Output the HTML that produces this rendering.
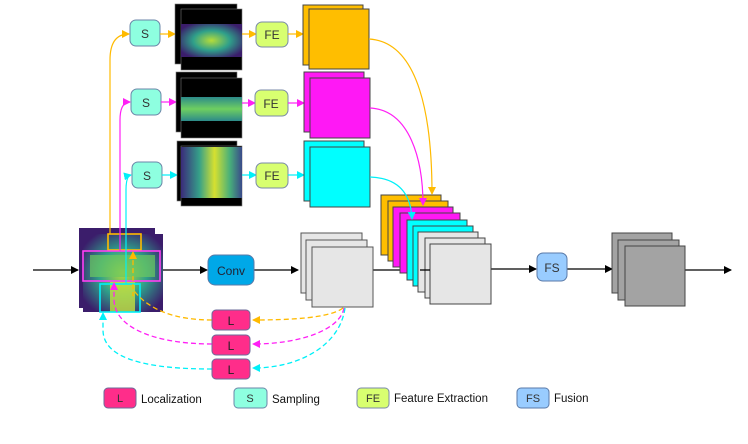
<!DOCTYPE html>
<html><head><meta charset="utf-8"><style>
html,body{margin:0;padding:0;background:#fff;}
svg{display:block;font-family:"Liberation Sans",sans-serif;}
</style></head><body>
<svg width="748" height="444" viewBox="0 0 748 444" xmlns="http://www.w3.org/2000/svg">
<defs>
<marker id="ak" markerWidth="8" markerHeight="8" refX="7" refY="4" orient="auto" markerUnits="userSpaceOnUse"><path d="M0,0 L8,4 L0,8 z" fill="#000"/></marker>
<marker id="ao" markerWidth="8" markerHeight="8" refX="7" refY="4" orient="auto" markerUnits="userSpaceOnUse"><path d="M0,0 L8,4 L0,8 z" fill="#ffba00"/></marker>
<marker id="am" markerWidth="8" markerHeight="8" refX="7" refY="4" orient="auto" markerUnits="userSpaceOnUse"><path d="M0,0 L8,4 L0,8 z" fill="#ff1ff5"/></marker>
<marker id="ac" markerWidth="8" markerHeight="8" refX="7" refY="4" orient="auto" markerUnits="userSpaceOnUse"><path d="M0,0 L8,4 L0,8 z" fill="#00f0f8"/></marker>
<radialGradient id="h2" cx="0.5" cy="0.5" r="0.6"><stop offset="0" stop-color="#b5dc3a"/><stop offset="0.5" stop-color="#2fa08a"/><stop offset="1" stop-color="#3b1d6b"/></radialGradient>
<linearGradient id="h3" x1="0" y1="0" x2="1" y2="0"><stop offset="0" stop-color="#3b2a7a"/><stop offset="0.3" stop-color="#35a089"/><stop offset="0.55" stop-color="#d6e030"/><stop offset="0.8" stop-color="#48b07a"/><stop offset="1" stop-color="#3a4a8a"/></linearGradient>
<linearGradient id="h4" x1="0" y1="0" x2="0" y2="1"><stop offset="0" stop-color="#2c8a8a"/><stop offset="0.5" stop-color="#6fcf60"/><stop offset="1" stop-color="#2c8a8a"/></linearGradient>
</defs>

<line x1="33" y1="270" x2="78" y2="270" stroke="#000" stroke-width="1.3" marker-end="url(#ak)"/>
<line x1="163" y1="270" x2="207" y2="270" stroke="#000" stroke-width="1.3" marker-end="url(#ak)"/>
<line x1="254" y1="270" x2="298" y2="270" stroke="#000" stroke-width="1.3" marker-end="url(#ak)"/>
<line x1="373" y1="270" x2="419" y2="270" stroke="#000" stroke-width="1.3" marker-end="url(#ak)"/>
<line x1="491" y1="269" x2="536" y2="269" stroke="#000" stroke-width="1.3" marker-end="url(#ak)"/>
<line x1="567" y1="269" x2="612" y2="269" stroke="#000" stroke-width="1.3" marker-end="url(#ak)"/>
<line x1="685" y1="270" x2="731" y2="270" stroke="#000" stroke-width="1.3" marker-end="url(#ak)"/>

<rect x="79" y="228" width="76" height="80" fill="#3b1d6b"/>
<rect x="83" y="234" width="80" height="78" fill="url(#h2)"/>
<rect x="90" y="255" width="65" height="22" fill="#6cc860" opacity="0.7"/>
<rect x="110" y="282" width="25" height="30" fill="#c6e040" opacity="0.8"/>
<rect x="108" y="234" width="33" height="16" fill="none" stroke="#ffba00" stroke-width="1.6"/>
<rect x="83" y="251" width="77" height="30" fill="none" stroke="#ff3ff5" stroke-width="1.6"/>
<rect x="100" y="284" width="40" height="28" fill="none" stroke="#00f0f8" stroke-width="1.6"/>

<path d="M110,234 L110,60 Q110,34 129,34" fill="none" stroke="#ffba00" stroke-width="1.2" marker-end="url(#ao)"/>
<path d="M120,251 L120,120 Q120,102 130,102" fill="none" stroke="#ff1ff5" stroke-width="1.2" marker-end="url(#am)"/>
<path d="M126,284 L126,190 Q126,176 131,175" fill="none" stroke="#00f0f8" stroke-width="1.2" marker-end="url(#ac)"/>

<g fill="#8effe0" stroke="#6b86a8" stroke-width="1">
<rect x="130" y="20" width="30" height="26" rx="6"/>
<rect x="131" y="89" width="30" height="26" rx="6"/>
<rect x="132" y="162" width="30" height="26" rx="6"/>
</g>
<g font-size="12" fill="#333" text-anchor="middle">
<text x="145" y="38">S</text><text x="146" y="107">S</text><text x="147" y="180">S</text>
</g>
<g stroke-width="1.2">
<line x1="160" y1="34" x2="175" y2="34" stroke="#ffba00" marker-end="url(#ao)"/>
<line x1="161" y1="102" x2="176" y2="102" stroke="#ff1ff5" marker-end="url(#am)"/>
<line x1="162" y1="175" x2="177" y2="175" stroke="#00f0f8" marker-end="url(#ac)"/>
</g>

<rect x="175" y="4" width="62" height="60" fill="#000" stroke="#777" stroke-width="0.6"/>
<rect x="181" y="9" width="61" height="61" fill="#000" stroke="#777" stroke-width="0.6"/>
<rect x="181" y="24" width="61" height="33" fill="url(#h2)"/>
<rect x="176" y="72" width="61" height="60" fill="#000" stroke="#777" stroke-width="0.6"/>
<rect x="181" y="78" width="61" height="60" fill="#000" stroke="#777" stroke-width="0.6"/>
<rect x="181" y="97" width="61" height="24" fill="url(#h4)"/>
<rect x="177" y="141" width="60" height="60" fill="#000" stroke="#777" stroke-width="0.6"/>
<rect x="181" y="146" width="61" height="60" fill="#000" stroke="#777" stroke-width="0.6"/>
<rect x="181" y="147" width="61" height="51" fill="url(#h3)"/>

<g stroke-width="1.2">
<line x1="242" y1="34" x2="256" y2="34" stroke="#ffba00" marker-end="url(#ao)"/>
<line x1="242" y1="103" x2="255" y2="103" stroke="#ff1ff5" marker-end="url(#am)"/>
<line x1="242" y1="175" x2="256" y2="175" stroke="#00f0f8" marker-end="url(#ac)"/>
</g>
<g fill="#d8ff70" stroke="#7a8aa8" stroke-width="1">
<rect x="256" y="22" width="32" height="25" rx="6"/>
<rect x="255" y="90" width="33" height="26" rx="6"/>
<rect x="256" y="163" width="32" height="25" rx="6"/>
</g>
<g font-size="12" fill="#333" text-anchor="middle">
<text x="272" y="39">FE</text><text x="271" y="108">FE</text><text x="272" y="180">FE</text>
</g>
<g stroke-width="1.2">
<line x1="288" y1="34" x2="303" y2="34" stroke="#ffba00" marker-end="url(#ao)"/>
<line x1="288" y1="103" x2="304" y2="103" stroke="#ff1ff5" marker-end="url(#am)"/>
<line x1="288" y1="175" x2="304" y2="175" stroke="#00f0f8" marker-end="url(#ac)"/>
</g>
<g stroke="#444" stroke-width="1">
<rect x="303" y="5" width="60" height="60" fill="#ffbe00"/>
<rect x="309" y="9" width="60" height="60" fill="#ffbe00"/>
<rect x="304" y="72" width="60" height="60" fill="#ff18f5"/>
<rect x="310" y="78" width="60" height="60" fill="#ff18f5"/>
<rect x="304" y="141" width="60" height="60" fill="#00ffff"/>
<rect x="310" y="147" width="60" height="60" fill="#00ffff"/>
</g>

<rect x="208" y="255" width="46" height="30" rx="7" fill="#00a8e8" stroke="#5a7aa8" stroke-width="1"/>
<text x="231" y="275" font-size="12" fill="#223" text-anchor="middle">Conv</text>

<g fill="#e6e6e6" stroke="#555" stroke-width="1">
<rect x="301" y="233" width="61" height="60"/>
<rect x="306" y="240" width="61" height="60"/>
<rect x="312" y="247" width="61" height="60"/>
</g>

<g stroke="#444" stroke-width="1">
<rect x="381" y="195" width="60" height="60" fill="#ffbe00"/>
<rect x="388" y="201" width="60" height="60" fill="#ffbe00"/>
<rect x="393" y="207" width="60" height="60" fill="#ff18f5"/>
<rect x="400" y="213" width="60" height="60" fill="#ff18f5"/>
<rect x="407" y="220" width="60" height="60" fill="#00ffff"/>
<rect x="413" y="226" width="60" height="60" fill="#00ffff"/>
<rect x="418" y="232" width="60" height="60" fill="#e6e6e6"/>
<rect x="425" y="238" width="60" height="60" fill="#e6e6e6"/>
<rect x="430" y="244" width="61" height="60" fill="#e6e6e6"/>
</g>
<line x1="420" y1="270" x2="430" y2="270" stroke="#000" stroke-width="1.3"/>

<path d="M369,39 C420,42 432,120 432,194" fill="none" stroke="#ffba00" stroke-width="1.2" marker-end="url(#ao)"/>
<path d="M370,108 C410,110 423,160 423,205" fill="none" stroke="#ff1ff5" stroke-width="1.2" marker-end="url(#am)"/>
<path d="M370,177 C400,178 411,195 412,219" fill="none" stroke="#00f0f8" stroke-width="1.2" marker-end="url(#ac)"/>

<rect x="537" y="253" width="30" height="28" rx="6" fill="#99ccff" stroke="#5a7aa8" stroke-width="1"/>
<text x="552" y="272" font-size="12" fill="#333" text-anchor="middle">FS</text>

<g fill="#a3a3a3" stroke="#444" stroke-width="1">
<rect x="612" y="233" width="60" height="60"/>
<rect x="618" y="240" width="61" height="60"/>
<rect x="625" y="246" width="60" height="60"/>
</g>

<g fill="none" stroke-width="1.3" stroke-dasharray="5,3">
<path d="M343,308 C330,318 290,320 253,320" stroke="#ffba00" marker-end="url(#ao)"/>
<path d="M344,308 C340,330 300,344 253,344" stroke="#ff1ff5" marker-end="url(#am)"/>
<path d="M345,308 C340,345 300,368 253,368" stroke="#00f0f8" marker-end="url(#ac)"/>
<path d="M212,320 C175,320 150,310 135,292 L133,296 L133,252" stroke="#ffba00" marker-end="url(#ao)"/>
<path d="M212,344 C160,344 115,330 114,300 L114,283" stroke="#ff1ff5" marker-end="url(#am)"/>
<path d="M212,369 C150,369 103,360 103,330 L103,313" stroke="#00f0f8" marker-end="url(#ac)"/>
</g>

<g fill="#ff2d8a" stroke="#6b6b9a" stroke-width="1">
<rect x="212" y="310" width="38" height="20" rx="4"/>
<rect x="212" y="335" width="38" height="20" rx="4"/>
<rect x="212" y="359" width="38" height="20" rx="4"/>
</g>
<g font-size="12" fill="#222" text-anchor="middle">
<text x="231" y="325">L</text><text x="231" y="350">L</text><text x="231" y="374">L</text>
</g>

<rect x="104" y="388" width="32" height="20" rx="4" fill="#ff2d8a" stroke="#6b6b9a"/>
<text x="120" y="402" font-size="11" fill="#333" text-anchor="middle">L</text>
<text x="141" y="403" font-size="11.5" fill="#111">Localization</text>
<rect x="234" y="388" width="33" height="20" rx="4" fill="#8effe0" stroke="#6b86a8"/>
<text x="250" y="402" font-size="11" fill="#333" text-anchor="middle">S</text>
<text x="272" y="403" font-size="11.5" fill="#111">Sampling</text>
<rect x="357" y="388" width="32" height="20" rx="4" fill="#d8ff70" stroke="#7a8aa8"/>
<text x="373" y="402" font-size="11" fill="#333" text-anchor="middle">FE</text>
<text x="394" y="402" font-size="11.5" fill="#111">Feature Extraction</text>
<rect x="517" y="388" width="32" height="20" rx="4" fill="#99ccff" stroke="#5a7aa8"/>
<text x="533" y="402" font-size="11" fill="#333" text-anchor="middle">FS</text>
<text x="554" y="402" font-size="11.5" fill="#111">Fusion</text>
</svg>
</body></html>
